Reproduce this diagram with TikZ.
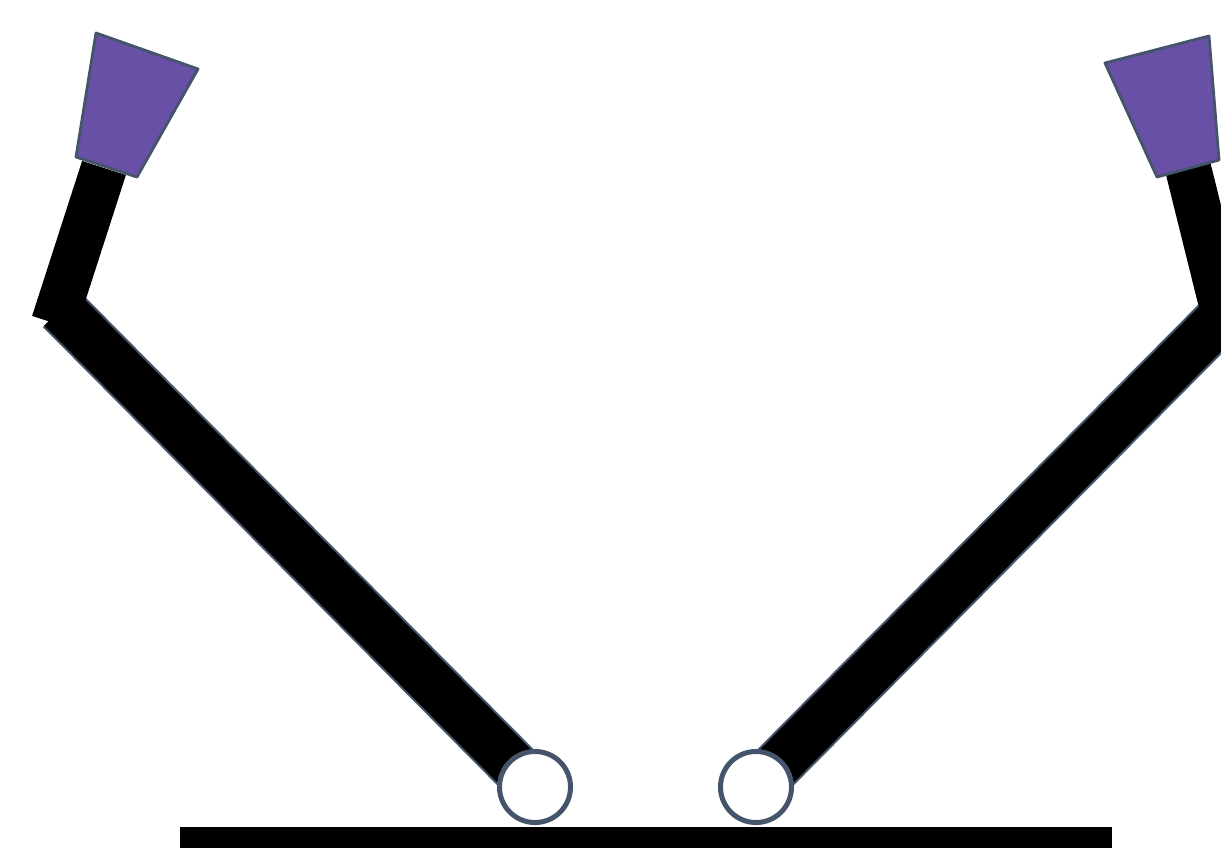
\documentclass[tikz,border=0pt]{standalone}
\usepackage{tikz}
\usetikzlibrary{positioning,calc}
\definecolor{slate}{RGB}{68,84,106}
\definecolor{grip}{RGB}{103,80,166}

\begin{document}
\begin{tikzpicture}[x=0.01cm,y=-0.01cm,
  upperlink/.style={draw=slate,line width=0.6pt,double=black,double distance=0.47cm},
  forelink/.style={black,line width=0.46cm},
  gripper/.style={fill=grip,draw=slate,line width=0.8pt,line join=round},
  joint/.style={circle,fill=white,draw=slate,line width=0.05cm,minimum size=0.71cm,inner sep=0pt}]
  \useasboundingbox (0,0) rectangle (1221,848);
  \clip (0,0) rectangle (1221,848);
  \coordinate (elbowL) at (61,309); \coordinate (elbowR) at (1230,309);
  \coordinate (wristL) at (104,168); \coordinate (wristR) at (1188,168);
  \coordinate (footL) at (54,323); \coordinate (footR) at (1227,325);
  \draw[upperlink](elbowL)--(535,787); \draw[upperlink](elbowR)--(756,787);
  \draw[forelink](footL)--(wristL); \draw[forelink](footR)--(wristR);
  \draw[gripper](96,33)--(198,69)--(137,177)--(76,157)--cycle;
  \draw[gripper](1105,63)--(1209,36)--(1219,160)--(1157,177)--cycle;
  \node[joint](jointL) at (535,787){}; \node[joint](jointR) at (756,787){};
  \fill[black](180,827) rectangle (1112,848);
\end{tikzpicture}
\end{document}
